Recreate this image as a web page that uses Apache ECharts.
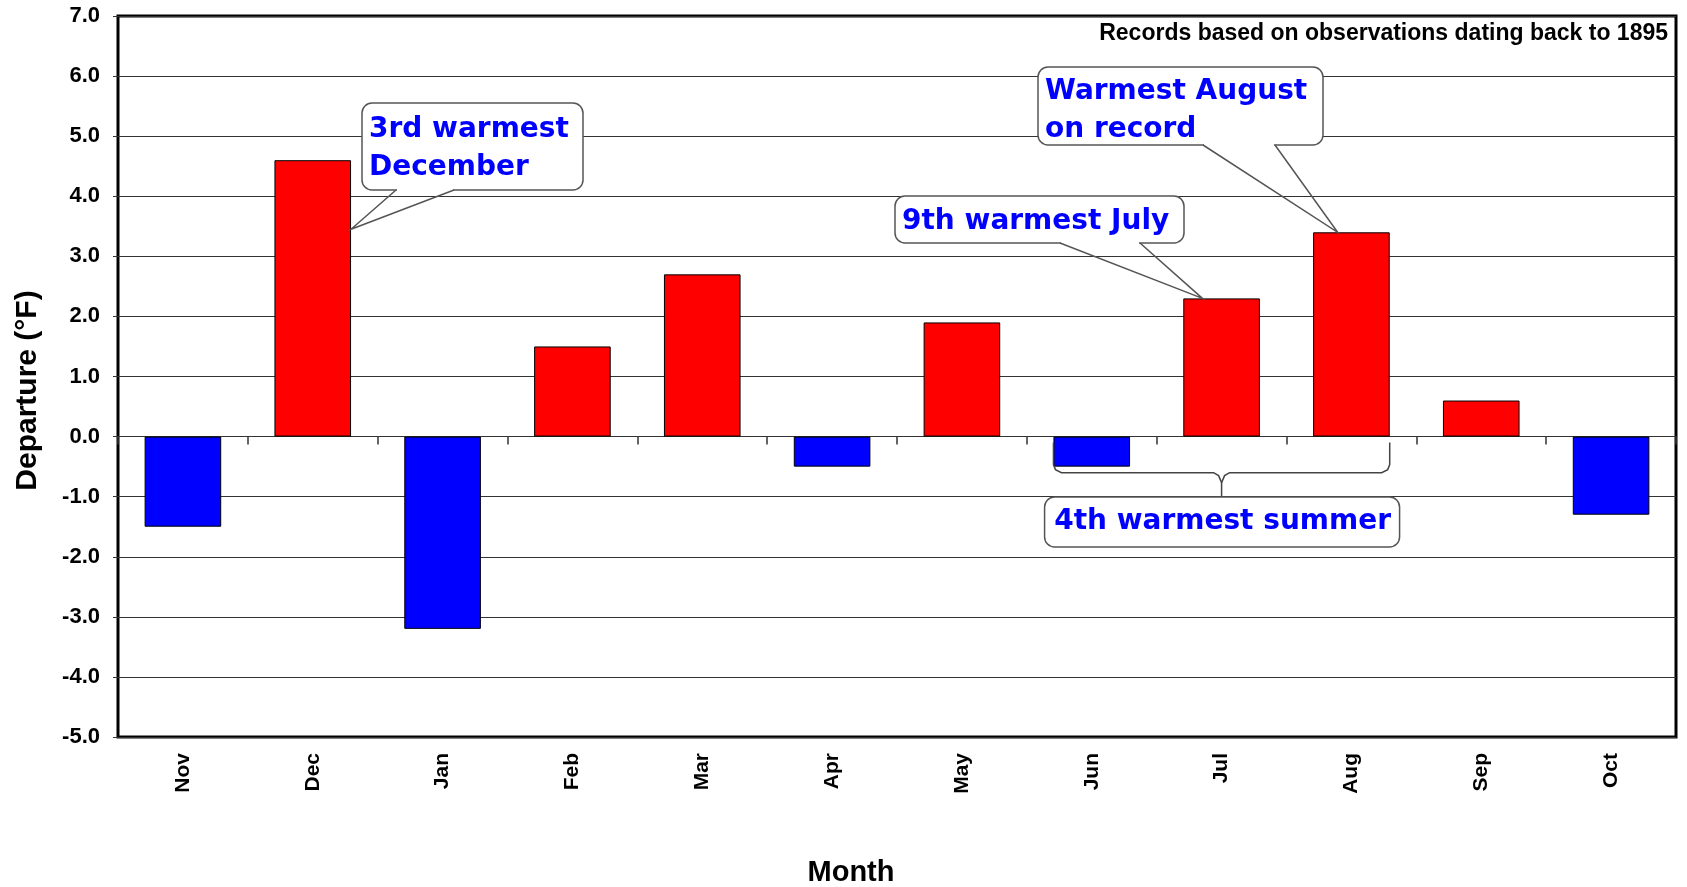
<!DOCTYPE html>
<html>
<head>
<meta charset="utf-8">
<title>Monthly Temperature Departure</title>
<style>
  html, body { margin: 0; padding: 0; background: #fff; }
  #main { width: 1687px; height: 887px; }
</style>
</head>
<body>
<div id="main"></div>
<script src="https://cdn.jsdelivr.net/npm/echarts@6/dist/echarts.min.js"></script>
<script>
// data
var months = ['Nov', 'Dec', 'Jan', 'Feb', 'Mar', 'Apr', 'May', 'Jun', 'Jul', 'Aug', 'Sep', 'Oct'];
var departure = [-1.5, 4.6, -3.2, 1.5, 2.7, -0.5, 1.9, -0.5, 2.3, 3.4, 0.6, -1.3];
var yMin = -5, yMax = 7, yStep = 1;
var noteText = 'Records based on observations dating back to 1895';
var summerText = '4th warmest summer';
var summerMonths = [7, 9]; // Jun .. Aug

var LABEL_FONT = '"Liberation Sans", Arial, sans-serif';
var NOTE_FONT = 'bold 28px "DejaVu Sans", Tahoma, sans-serif';
var BAR_WIDTH = 0.59;

// callout boxes (pixels), tip is tied to a bar: cat index, offset in bar widths, value
var callouts = [
  { text: '3rd warmest\nDecember', box: [362, 103, 221, 87], base: [396, 454], tip: [1, 0.5, 3.45], dy: 2 },
  { text: '9th warmest July', box: [895, 196, 289, 47], base: [1060, 1140], tip: [8, -0.25, 2.3], dy: 2 },
  { text: 'Warmest August\non record', box: [1038, 67, 285, 78], base: [1203, 1275], tip: [9, -0.18, 3.4], dy: 5 }
];

var chart = echarts.init(document.getElementById('main'));

var option = {
  animation: false,
  backgroundColor: '#fff',
  grid: {
    left: 118, right: 11, top: 16, bottom: 150,
    show: true, borderColor: '#000', borderWidth: 3,
    containLabel: false, outerBoundsMode: 'none'
  },
  xAxis: [{
    type: 'category',
    data: months,
    position: 'bottom',
    axisLine: { show: false, onZero: false },
    axisTick: { show: false },
    axisLabel: {
      rotate: 90, margin: 16,
      color: '#000', fontFamily: LABEL_FONT, fontWeight: 'bold', fontSize: 21
    },
    name: 'Month',
    nameLocation: 'middle',
    nameGap: 121,
    nameTextStyle: {
      color: '#000', fontFamily: LABEL_FONT, fontWeight: 'bold', fontSize: 29,
      padding: [0, 92, 0, 0]
    },
    splitLine: { show: false }
  }, {
    // the zero line with its category ticks
    type: 'category',
    data: months,
    position: 'top',
    axisLine: { show: true, onZero: true, lineStyle: { color: '#333', width: 1 } },
    axisTick: { show: true, inside: true, length: 8, lineStyle: { color: '#333', width: 1.5 } },
    axisLabel: { show: false },
    splitLine: { show: false }
  }],
  yAxis: {
    type: 'value',
    min: yMin, max: yMax, interval: yStep,
    axisLine: { show: false },
    axisTick: { show: true, length: 5, lineStyle: { color: '#333' } },
    axisLabel: {
      margin: 18,
      color: '#000', fontFamily: LABEL_FONT, fontWeight: 'bold', fontSize: 22,
      formatter: function (v) { return v.toFixed(1); }
    },
    splitLine: { show: true, lineStyle: { color: '#333', width: 1.2 } },
    name: 'Departure (°F)',
    nameLocation: 'middle',
    nameRotate: 90,
    nameGap: 75,
    nameTextStyle: {
      color: '#000', fontFamily: LABEL_FONT, fontWeight: 'bold', fontSize: 30,
      padding: [0, 28, 0, 0]
    }
  },
  series: [{
    type: 'bar',
    xAxisIndex: 0,
    data: departure,
    barWidth: (BAR_WIDTH * 100) + '%',
    itemStyle: {
      color: function (p) { return p.value >= 0 ? '#ff0000' : '#0000ff'; },
      borderColor: '#000',
      borderWidth: 1
    }
  }]
};
chart.setOption(option);

// annotations placed from the axes
function px(cat, val) {
  return chart.convertToPixel({ xAxisIndex: 0, yAxisIndex: 0 }, [cat, val]);
}
var band = px(1, 0)[0] - px(0, 0)[0];
var barW = band * BAR_WIDTH;

var elements = [];
callouts.forEach(function (c) {
  var p = px(c.tip[0], c.tip[2]);
  var tip = [p[0] + c.tip[1] * barW, p[1]];
  var x = c.box[0], y = c.box[1], w = c.box[2], h = c.box[3];
  var by = y + h;
  elements.push({
    type: 'rect', z: 100,
    shape: { x: x, y: y, width: w, height: h, r: 10 },
    style: { fill: '#fff', stroke: '#555', lineWidth: 1.5 }
  });
  elements.push({
    type: 'line', z: 101,
    shape: { x1: c.base[0] + 1, y1: by, x2: c.base[1] - 1, y2: by },
    style: { stroke: '#fff', lineWidth: 3 }
  });
  elements.push({
    type: 'polyline', z: 102,
    shape: { points: [[c.base[0], by], tip, [c.base[1], by]] },
    style: { stroke: '#555', lineWidth: 1.5, fill: null }
  });
  elements.push({
    type: 'text', z: 103,
    x: x + 7, y: y + h / 2 + c.dy,
    style: {
      text: c.text, font: NOTE_FONT, fill: '#0000ff', lineHeight: 38,
      textAlign: 'left', textVerticalAlign: 'middle', align: 'left', verticalAlign: 'middle'
    }
  });
});

// summer brace under Jun..Aug
var xl = px(summerMonths[0], 0)[0] - barW / 2;
var xr = px(summerMonths[1], 0)[0] + barW / 2;
var xc = (xl + xr) / 2;
var braceTop = px(0, 0)[1] + 6;
var braceMid = px(0, -0.6)[1];
var boxTop = 497, boxH = 50;
elements.push({
  type: 'polyline', z: 100,
  shape: { points: [[xl, braceTop], [xl, braceMid - 8], [xl + 2, braceMid - 3], [xl + 8, braceMid], [xc - 8, braceMid], [xc - 3, braceMid + 3], [xc, braceMid + 10], [xc, boxTop]] },
  style: { stroke: '#444', lineWidth: 1.5, fill: null }
});
elements.push({
  type: 'polyline', z: 100,
  shape: { points: [[xr, braceTop], [xr, braceMid - 8], [xr - 2, braceMid - 3], [xr - 8, braceMid], [xc + 8, braceMid], [xc + 3, braceMid + 3], [xc, braceMid + 10]] },
  style: { stroke: '#444', lineWidth: 1.5, fill: null }
});
elements.push({
  type: 'rect', z: 100,
  shape: { x: xc - 177, y: boxTop, width: 355, height: boxH, r: 10 },
  style: { fill: '#fff', stroke: '#555', lineWidth: 1.5 }
});
elements.push({
  type: 'text', z: 103,
  x: xc + 1, y: boxTop + boxH / 2,
  style: {
    text: summerText, font: NOTE_FONT, fill: '#0000ff',
    textAlign: 'center', textVerticalAlign: 'middle', align: 'center', verticalAlign: 'middle'
  }
});

// note in top right corner
elements.push({
  type: 'text', z: 103,
  x: 1668, y: 34,
  style: {
    text: noteText, font: 'bold 23px ' + LABEL_FONT, fill: '#000',
    textAlign: 'right', textVerticalAlign: 'middle', align: 'right', verticalAlign: 'middle'
  }
});

chart.setOption({ graphic: elements });
</script>
</body>
</html>
